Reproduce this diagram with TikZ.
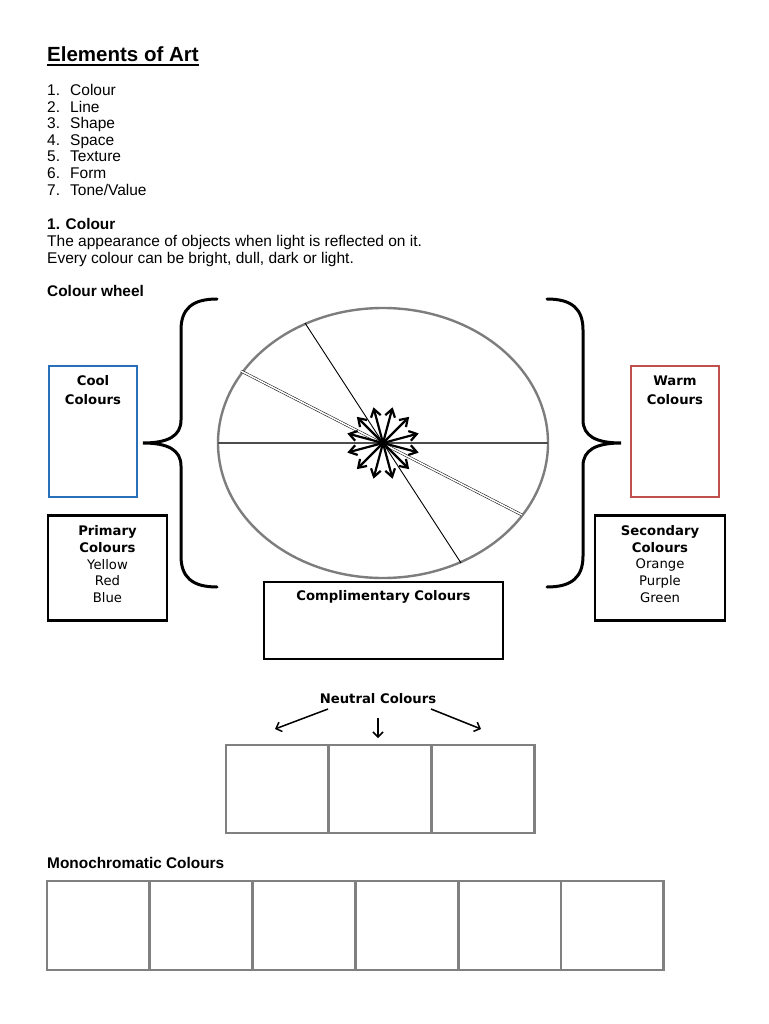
\documentclass[tikz,border=0pt]{standalone}
\usepackage{fontspec}
\setmainfont{Liberation Sans}
\newfontfamily\vfont{DejaVu Sans}
\usetikzlibrary{arrows.meta}
\definecolor{coolblue}{RGB}{40,112,186}
\definecolor{warmred}{RGB}{192,80,77}
\definecolor{gridgray}{RGB}{128,128,128}
\definecolor{wheelgray}{RGB}{125,125,125}
\begin{document}
\begin{tikzpicture}[x=1pt,y=-1pt,
  txt/.style={inner sep=0pt, anchor=base west, font=\fontsize{15.5}{16.7}\selectfont},
  btxt/.style={inner sep=0pt, anchor=base west, font=\fontsize{15.4}{16.7}\selectfont\bfseries},
  blabel/.style={inner sep=0pt, anchor=base, font=\vfont\fontsize{13.2}{16.7}\selectfont\bfseries},
  rlabel/.style={inner sep=0pt, anchor=base, font=\vfont\fontsize{13.2}{16.7}\selectfont},
  frame/.style={draw=black, line width=2.8pt, inner sep=0pt},
  cell/.style={draw=gridgray, line width=2.9pt, inner sep=0pt},
  brace/.style={line width=3pt, line cap=round},
  startip/.style={line width=2.2pt, -{Straight Barb[length=7.5pt,width=10pt,line width=2.2pt]}},
  ntip/.style={line width=1.5pt, -{Straight Barb[length=5pt,width=10pt,line width=1.5pt]}}
]
\useasboundingbox (0,0) rectangle (768,1024);
\fill[white] (0,0) rectangle (768,1024);

% Title
\node[inner sep=0pt, anchor=base west, font=\fontsize{20.5}{24}\selectfont\bfseries] (title) at (47,62) {Elements of Art};
\draw[line width=1.7pt] ([yshift=-3.2pt]title.base west) -- ([yshift=-3.2pt]title.base east);

% List
\foreach \i/\t in {1/Colour,2/Line,3/Shape,4/Space,5/Texture,6/Form,7/{Tone/Value}}{
  \node[txt] (num\i) at (47,{95.5+16.6*(\i-1)}) {\i.};
  \node[txt] (item\i) at (70,{95.5+16.6*(\i-1)}) {\t};
}

\node[btxt] (sec1) at (47,229.5) {1. Colour};
\node[txt] (desc1) at (47,246.5) {The appearance of objects when light is reflected on it.};
\node[txt] (desc2) at (47,263) {Every colour can be bright, dull, dark or light.};
\node[btxt] (wheellbl) at (47,296.5) {Colour wheel};

% Wheel
\coordinate (c) at (383,443);
\draw[wheelgray, line width=2.4pt] (c) ellipse [x radius=165, y radius=135];
\draw[black!70, line width=2pt] (218,443) -- (548,443);
\draw[black, line width=0.9pt] (305,323) -- (461,563);
\draw[black, line width=0.5pt, double=white, double distance=1.6pt] (241,371) -- (522,515);
\foreach \a in {15,45,...,345}{
  \draw[startip] (c) -- ++(\a:37);
}

% Braces
\draw[brace] (217,299) .. controls (192,299) and (181,309) .. (181,330) -- (181,420)
  .. controls (181,436) and (168,443) .. (143,443)
  .. controls (168,443) and (181,450) .. (181,466) -- (181,556)
  .. controls (181,577) and (192,587) .. (217,587);
\draw[brace] (547,299) .. controls (572,299) and (583,309) .. (583,330) -- (583,420)
  .. controls (583,436) and (596,443) .. (621,443)
  .. controls (596,443) and (583,450) .. (583,466) -- (583,556)
  .. controls (583,577) and (572,587) .. (547,587);

% Cool / Warm boxes
\node[draw=coolblue, line width=2.6pt, inner sep=0pt, minimum width=88pt, minimum height=131pt] (cool) at (93,431.5) {};
\node[blabel] (coolt1) at (93,385) {Cool};
\node[blabel] (coolt2) at (93,404) {Colours};

\node[draw=warmred, line width=2.6pt, inner sep=0pt, minimum width=88pt, minimum height=131pt] (warm) at (675,431.5) {};
\node[blabel] (warmt1) at (675,385) {Warm};
\node[blabel] (warmt2) at (675,404) {Colours};

% Primary / Secondary
\node[frame, minimum width=119pt, minimum height=105pt] (primary) at (107.5,568) {};
\node[blabel] (p1) at (107.5,535) {Primary};
\node[blabel] (p2) at (107.5,552) {Colours};
\node[rlabel] (p3) at (107.5,569) {Yellow};
\node[rlabel] (p4) at (107.5,585.5) {Red};
\node[rlabel] (p5) at (107.5,602) {Blue};

\node[frame, minimum width=130pt, minimum height=105pt] (secondary) at (660,568) {};
\node[blabel] (s1) at (660,535) {Secondary};
\node[blabel] (s2) at (660,552) {Colours};
\node[rlabel] (s3) at (660,568.5) {Orange};
\node[rlabel] (s4) at (660,585.5) {Purple};
\node[rlabel] (s5) at (660,602) {Green};

% Complimentary
\node[frame, minimum width=239pt, minimum height=77pt] (compl) at (383.5,620.5) {};
\node[blabel] (complt) at (383.5,600) {Complimentary Colours};

% Neutral
\node[blabel] (neutral) at (378,703) {Neutral Colours};
\coordinate (nl) at (275,729);
\coordinate (nm) at (378,738);
\coordinate (nr) at (481,729);
\draw[ntip] (328,709) -- (nl);
\draw[ntip] (378,718) -- (nm);
\draw[ntip] (431,709) -- (nr);

\foreach \i in {0,1,2}{
  \node[cell, minimum width=102.7pt, minimum height=88pt] (n\i) at ({226+102.7*\i+51.35},789) {};
}

% Monochromatic
\node[btxt] (mono) at (47,868.5) {Monochromatic Colours};
\foreach \i in {0,...,5}{
  \node[cell, minimum width=102.8pt, minimum height=89pt] (m\i) at ({47+102.8*\i+51.4},925.5) {};
}
\end{tikzpicture}
\end{document}
